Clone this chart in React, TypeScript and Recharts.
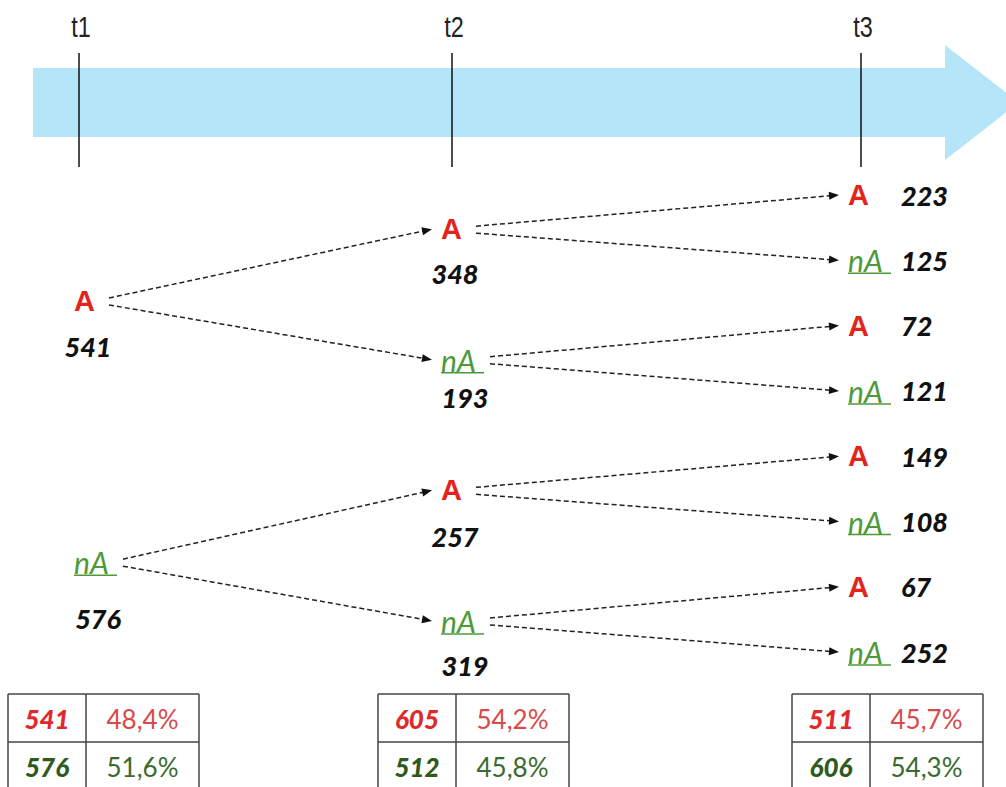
import React from 'react';
import { ComposedChart, XAxis, YAxis, Scatter, ReferenceArea, ReferenceLine } from 'recharts';

// time points
const times = ['t1', 't2', 't3'];
const states = ['A', 'nA'];

// tree values, top to bottom (A / nA alternate)
const level1 = [541, 576];
const level2 = [348, 193, 257, 319];
const level3 = [223, 125, 72, 121, 149, 108, 67, 252];

// summary tables per time point
const countsA = [541, 605, 511];
const countsNA = [576, 512, 606];
const pctA = ['48,4%', '54,2%', '45,7%'];
const pctNA = ['51,6%', '45,8%', '54,3%'];

// layout (pixel units, the axes map 1:1 onto the page)
const W = 1006;
const H = 787;
const COL_X = [79, 452, 861];
const NODE_LEFT = [74, 441, 848];
const SLOT_Y0 = 195;
const SLOT_H = 65.3;
const LEVEL_DY = [8, 1.5, 0];
const VALUE_DY = [[46, 56], [44, 38, 46, 45]];
const TABLE_LEFT = [8, 378, 792];
const TABLE_TOP = 694;

const RED = '#e3241d';
const GREEN = '#4c9a3a';
const SANS = 'Lato, "Noto Sans", sans-serif';

const levels = [level1, level2, level3];

const nodeY = (level: number, idx: number) => {
  const span = Math.pow(2, 2 - level);
  return SLOT_Y0 + (idx * span + (span - 1) / 2) * SLOT_H + LEVEL_DY[level];
};

const nodes = levels.flatMap((vals, level) =>
  vals.map((value, idx) => ({
    x: NODE_LEFT[level],
    y: nodeY(level, idx),
    state: states[idx % 2],
    value,
    level,
    idx,
  }))
);

const edges = nodes
  .filter((n) => n.level < 2)
  .flatMap((n) =>
    [0, 1].map((k) => {
      const cIdx = n.idx * 2 + k;
      const x1 = n.x + (n.state === 'A' ? 35 : 49);
      const y1 = n.y + (k === 0 ? -3 : 4);
      const x2 = NODE_LEFT[n.level + 1] - 9;
      const y2 = nodeY(n.level + 1, cIdx);
      const ang = Math.atan2(y2 - y1, x2 - x1);
      return { x1, y1, x2, y2, ang, x: x2, y: y2 };
    })
  );

const timeLabels = times.map((t, i) => ({ x: COL_X[i] + 2, y: 27, label: t }));

const tables = times.map((t, i) => ({
  x: TABLE_LEFT[i],
  y: TABLE_TOP,
  a: countsA[i],
  na: countsNA[i],
  pa: pctA[i],
  pna: pctNA[i],
}));

const ArrowBand = (p: any) => {
  const { x, y, width, height } = p;
  const top = y + 23;
  const bot = y + 92;
  const headX = x + width - 61;
  const tipX = x + width + 13;
  const mid = y + height / 2;
  const pts = [
    [x, top], [headX, top], [headX, y], [tipX, mid],
    [headX, y + height], [headX, bot], [x, bot],
  ].map((q) => q.join(',')).join(' ');
  return <polygon points={pts} fill="#b5e5f8" />;
};

const TimeLabel = (p: any) => (
  <text
    x={p.cx}
    y={p.cy}
    textAnchor="middle"
    dominantBaseline="central"
    fontFamily='"Liberation Sans Narrow", "Arial Narrow", "Liberation Sans", sans-serif'
    fontSize={30}
    fill="#222"
    transform={`translate(${p.cx},0) scale(0.78,1) translate(${-p.cx},0)`}
  >
    {p.payload.label}
  </text>
);

const ArrowHead = (p: any) => {
  const { cx, cy, payload } = p;
  const a = payload.ang;
  const L = 10;
  const hw = 4;
  const bx = cx - L * Math.cos(a);
  const by = cy - L * Math.sin(a);
  const px = -Math.sin(a) * hw;
  const py = Math.cos(a) * hw;
  return (
    <polygon
      points={`${cx},${cy} ${bx + px},${by + py} ${bx - px},${by - py}`}
      fill="#111"
    />
  );
};

const NodeShape = (p: any) => {
  const { cx, cy, payload } = p;
  const isA = payload.state === 'A';
  const w = isA ? 20 : 40;
  const valueProps =
    payload.level < 2
      ? { x: cx + w / 2 + 4, y: cy + VALUE_DY[payload.level][payload.idx], textAnchor: 'middle' as const }
      : { x: 901, y: cy, textAnchor: 'start' as const };
  return (
    <g>
      {isA ? (
        <text
          x={cx}
          y={cy}
          dominantBaseline="central"
          fontFamily='"Liberation Sans", Arial, sans-serif'
          fontWeight="bold"
          fontSize={29}
          fill={RED}
        >
          A
        </text>
      ) : (
        <g>
          <text
            x={cx}
            y={cy}
            dominantBaseline="central"
            fontFamily={SANS}
            fontStyle="italic"
            fontSize={30}
            fill={GREEN}
          >
            nA
          </text>
          <line x1={cx} x2={cx + 43} y1={cy + 13} y2={cy + 13} stroke={GREEN} strokeWidth={1.5} />
        </g>
      )}
      <text
        {...valueProps}
        dominantBaseline="central"
        fontFamily={SANS}
        fontWeight={900}
        fontStyle="italic"
        fontSize={27}
        fill="#111"
      >
        {payload.value}
      </text>
    </g>
  );
};

const TableShape = (p: any) => {
  const { cx, cy, payload } = p;
  const c1 = 78;
  const c2 = 113;
  const rh = 48;
  const bottom = H + 5;
  const stroke = '#444';
  const cell = (col: number, row: number) => ({
    x: col === 0 ? cx + c1 / 2 : cx + c1 + c2 / 2,
    y: cy + rh * row + rh / 2 + 1,
  });
  return (
    <g>
      <line x1={cx} x2={cx + c1 + c2} y1={cy} y2={cy} stroke={stroke} strokeWidth={1.5} />
      <line x1={cx} x2={cx + c1 + c2} y1={cy + rh} y2={cy + rh} stroke={stroke} strokeWidth={1.5} />
      <line x1={cx} x2={cx} y1={cy} y2={bottom} stroke={stroke} strokeWidth={1.5} />
      <line x1={cx + c1} x2={cx + c1} y1={cy} y2={bottom} stroke={stroke} strokeWidth={1.5} />
      <line x1={cx + c1 + c2} x2={cx + c1 + c2} y1={cy} y2={bottom} stroke={stroke} strokeWidth={1.5} />
      <text {...cell(0, 0)} textAnchor="middle" dominantBaseline="central" fontFamily={SANS}
        fontWeight={900} fontStyle="italic" fontSize={26} fill="#e02a2a">{payload.a}</text>
      <text {...cell(1, 0)} textAnchor="middle" dominantBaseline="central" fontFamily={SANS}
        fontSize={26} fill="#d94a4a">{payload.pa}</text>
      <text {...cell(0, 1)} textAnchor="middle" dominantBaseline="central" fontFamily={SANS}
        fontWeight={900} fontStyle="italic" fontSize={26} fill="#2f5a1e">{payload.na}</text>
      <text {...cell(1, 1)} textAnchor="middle" dominantBaseline="central" fontFamily={SANS}
        fontSize={26} fill="#3b6a2e">{payload.pna}</text>
    </g>
  );
};

export default function App() {
  return (
    <div style={{ position: 'absolute', left: 0, top: 0, width: W, height: H, background: '#fff' }}>
      <ComposedChart width={W} height={H} margin={{ top: 0, right: 0, bottom: 0, left: 0 }}>
        <XAxis type="number" dataKey="x" domain={[0, W]} hide allowDataOverflow />
        <YAxis type="number" dataKey="y" domain={[0, H]} reversed hide allowDataOverflow />
        <ReferenceArea x1={33} x2={W} y1={45} y2={160} shape={ArrowBand} ifOverflow="visible" />
        {COL_X.map((x, i) => (
          <ReferenceLine
            key={'tl' + i}
            segment={[{ x, y: 53 }, { x, y: 167 }]}
            stroke="#111"
            strokeWidth={1.5}
            ifOverflow="visible"
          />
        ))}
        {edges.map((e, i) => (
          <ReferenceLine
            key={'e' + i}
            segment={[
              { x: e.x1, y: e.y1 },
              { x: e.x2 - 9 * Math.cos(e.ang), y: e.y2 - 9 * Math.sin(e.ang) },
            ]}
            stroke="#222"
            strokeWidth={1.5}
            strokeDasharray="5 3"
            ifOverflow="visible"
          />
        ))}
        <Scatter data={timeLabels} shape={TimeLabel} isAnimationActive={false} />
        <Scatter data={edges} shape={ArrowHead} isAnimationActive={false} />
        <Scatter data={nodes} shape={NodeShape} isAnimationActive={false} />
        <Scatter data={tables} shape={TableShape} isAnimationActive={false} />
      </ComposedChart>
    </div>
  );
}
